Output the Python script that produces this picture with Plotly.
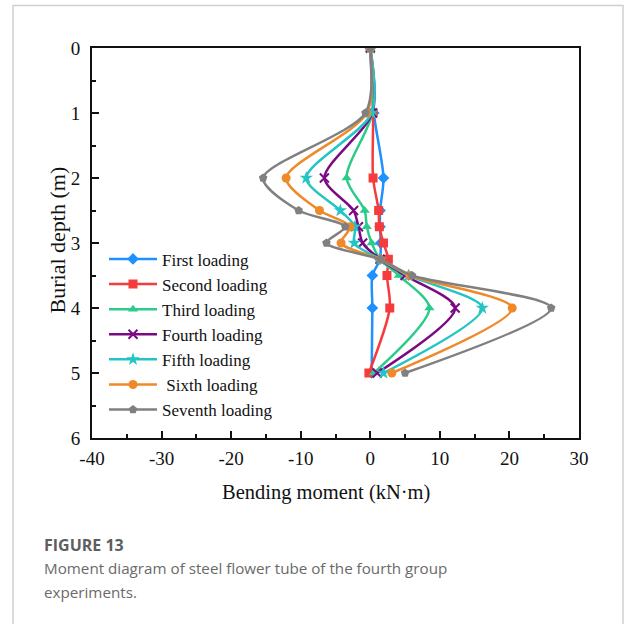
import plotly.graph_objects as go

depth = [0, 1, 2, 2.5, 2.75, 3, 3.25, 3.5, 4, 5]
first = [0, 0.5, 1.9, 1.4, 1.4, 1.5, 1.4, 0.3, 0.3, 0.2]
second = [0, 0.4, 0.4, 1.2, 1.3, 1.9, 2.6, 2.4, 2.8, -0.2]
third = [0, 0.3, -3.4, -0.8, -0.5, 0.2, 1.4, 4.1, 8.5, 0.5]
fourth = [0, 0.3, -6.6, -2.4, -1.7, -1.1, 1.4, 5.0, 12.2, 1.0]
fifth = [0, 0.2, -9.2, -4.3, -2.2, -2.3, 1.4, 5.5, 16.1, 1.9]
sixth = [0, -0.5, -12.1, -7.3, -2.9, -4.2, 1.4, 5.7, 20.4, 3.1]
seventh = [0, -0.7, -15.4, -10.3, -3.6, -6.3, 1.4, 6.0, 26.0, 5.0]

x_ticks = [-40, -30, -20, -10, 0, 10, 20, 30]
x_labels = ["-40", "-30", "-20", "-10", "0", "10", "20", "30"]
y_ticks = [0, 1, 2, 3, 4, 5, 6]
y_labels = ["0", "1", "2", "3", "4", "5", "6"]

names = ["First loading", "Second loading", "Third loading", "Fourth loading",
         "Fifth loading", " Sixth loading", "Seventh loading"]
series = [first, second, third, fourth, fifth, sixth, seventh]
colors = ["#1E90FF", "#F53B3B", "#2BCB8A", "#7A0A84", "#22C4C4", "#F08A28", "#808080"]
symbols = ["diamond", "square", "triangle-up", "x-thin-open", "star", "circle", "pentagon"]
sizes = [9, 9, 9, 9, 10, 9, 9]

fig = go.Figure()
for name, xs, c, s, sz in zip(names, series, colors, symbols, sizes):
    fig.add_trace(go.Scatter(
        x=xs, y=depth, name=name, mode="lines+markers",
        line=dict(color=c, width=2.5, shape="spline", smoothing=0.8),
        marker=dict(symbol=s, size=sz, color=c, line=dict(color=c, width=2 if s.startswith("x") else 0)),
    ))

serif = "Liberation Serif, Times New Roman, serif"
L, R, T, B = 92, 579, 47.5, 437.7
W, H = 625, 624
pw, ph = R - L, B - T

def px(x):
    return (x - L) / pw

def py(y):
    return (B - y) / ph

fig.update_layout(
    width=W, height=H,
    margin=dict(l=L, r=W - R, t=T, b=H - B),
    paper_bgcolor="white", plot_bgcolor="white",
    font=dict(family=serif, size=19, color="#111"),
    showlegend=True,
    legend=dict(x=px(104), y=py(241), xanchor="left", yanchor="top",
                bgcolor="rgba(0,0,0,0)", font=dict(family=serif, size=17, color="#111"),
                tracegroupgap=0, itemwidth=48),
    xaxis=dict(range=[-40, 30], tickvals=x_ticks, ticktext=x_labels, showgrid=False, zeroline=False,
               showline=True, linecolor="#111", linewidth=2, mirror=True,
               ticks="inside", ticklen=7, tickwidth=2, tickcolor="#111", ticklabelstandoff=2,
               minor=dict(ticks="inside", ticklen=4, dtick=5, tickwidth=1.5, tickcolor="#111"),
               tickfont=dict(family=serif, size=19)),
    yaxis=dict(range=[6, 0], tickvals=y_ticks, ticktext=y_labels, showgrid=False, zeroline=False,
               showline=True, linecolor="#111", linewidth=2, mirror=True,
               ticks="inside", ticklen=7, tickwidth=2, tickcolor="#111", ticklabelstandoff=6,
               minor=dict(ticks="inside", ticklen=4, dtick=0.5, tickwidth=1.5, tickcolor="#111"),
               tickfont=dict(family=serif, size=19)),
)

# axis titles
fig.add_annotation(text="Bending moment (kN·m)", xref="paper", yref="paper", x=px(326), y=py(492),
                   xanchor="center", yanchor="middle", showarrow=False,
                   font=dict(family=serif, size=20.5, color="#111"))
fig.add_annotation(text="Burial depth (m)", xref="paper", yref="paper", x=px(57), y=py(240),
                   xanchor="center", yanchor="middle", showarrow=False, textangle=-90,
                   font=dict(family=serif, size=22, color="#111"))

# outer frame
fig.add_shape(type="rect", xref="paper", yref="paper",
              x0=px(13), x1=px(623), y0=py(700), y1=py(5),
              line=dict(color="#CFCFCF", width=1.5), fillcolor="rgba(0,0,0,0)", layer="below")

sans = "Open Sans, Noto Sans, sans-serif"
fig.add_annotation(text="<b>FIGURE 13</b>", xref="paper", yref="paper", x=px(42), y=py(545),
                   xanchor="left", yanchor="middle", showarrow=False,
                   font=dict(family=sans, size=16, color="#5E5E5E"))
fig.add_annotation(text="Moment diagram of steel flower tube of the fourth group", xref="paper", yref="paper",
                   x=px(42), y=py(568), xanchor="left", yanchor="middle", showarrow=False,
                   font=dict(family=sans, size=15.2, color="#6A6A6A"))
fig.add_annotation(text="experiments.", xref="paper", yref="paper",
                   x=px(42), y=py(592), xanchor="left", yanchor="middle", showarrow=False,
                   font=dict(family=sans, size=15.2, color="#6A6A6A"))

fig.write_html("out.html")
